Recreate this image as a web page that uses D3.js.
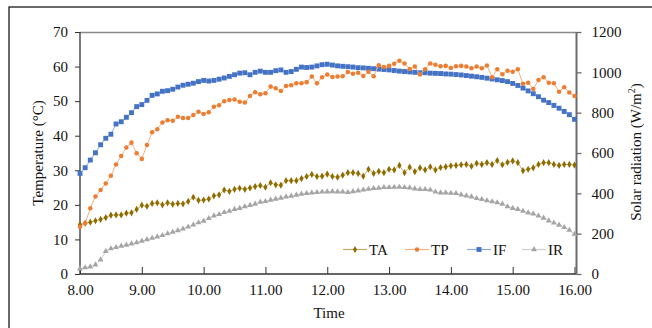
<!DOCTYPE html>
<html><head><meta charset="utf-8">
<script src="https://cdn.jsdelivr.net/npm/d3@7"></script>
<style>
body{margin:0;background:#fff;}
svg{display:block;}
text{font-family:"Liberation Serif","Times New Roman",serif;}
</style>
</head><body>
<svg id="c" width="652" height="328"></svg>
<script>
// ---- data (5-minute readings, 8.00 to 16.00) ----
const tickLabels = ["8.00","9.00","10.00","11.00","12.00","13.00","14.00","15.00","16.00"];
const tempTicks = [0,10,20,30,40,50,60,70];
const radTicks = [0,200,400,600,800,1000,1200];
const seriesNames = ["TA","TP","IF","IR"];

const TA = [14.3,14.7,15.0,15.4,15.8,16.3,17.0,17.1,17.1,17.6,17.7,18.7,19.9,19.6,20.4,20.6,20.0,20.6,20.2,20.4,20.3,21.0,22.2,21.3,21.4,21.7,22.6,22.9,
  24.3,23.9,24.5,24.8,24.5,24.9,25.3,25.6,25.1,26.4,25.8,25.7,27.0,27.0,27.0,27.6,28.2,28.8,28.2,28.3,28.9,
  28.2,28.0,28.6,29.3,29.3,29.1,28.3,30.3,29.1,29.7,29.3,30.3,30.1,31.4,29.3,30.9,29.6,30.7,30.1,31.0,30.1,30.8,31.0,31.3,
  31.4,31.6,31.7,31.2,32.0,31.7,32.2,31.7,32.8,31.6,32.3,32.7,32.2,29.9,30.3,30.7,31.7,32.2,32.2,31.7,31.4,31.7,31.7,31.5];

const TP = [13.7,14.7,19.0,22.4,24.3,26.2,28.4,31.7,34.1,36.6,38.0,34.9,33.3,37.3,41.0,41.9,43.8,44.5,44.3,45.5,45.1,45.1,46.0,46.9,46.3,
  46.8,48.4,48.8,50.0,50.3,50.5,49.8,49.6,51.5,52.6,52.0,52.3,54.2,53.7,52.9,54.4,54.6,55.2,55.2,55.5,57.1,55.2,56.9,57.7,
  57.0,57.1,57.2,58.4,57.9,58.2,57.3,58.5,57.2,60.4,59.9,60.2,60.8,61.7,60.9,59.3,60.0,57.7,59.2,60.9,60.5,60.1,60.2,59.6,
  60.1,60.2,60.0,59.5,60.0,59.5,60.3,56.9,59.2,57.8,58.8,58.5,59.2,55.0,55.3,53.5,56.1,56.9,55.3,55.2,52.7,54.0,52.5,51.5];

const IF = [499,527,565,601,641,673,693,744,755,777,800,830,840,861,886,893,906,909,916,927,936,941,946,954,960,
  957,960,966,972,980,988,996,998,988,1000,1006,1000,1000,1008,1012,1000,1004,1015,1026,1024,1026,1032,1038,1040,
  1036,1032,1030,1028,1026,1023,1022,1020,1018,1016,1014,1012,1009,1006,1004,1002,1000,998,998,996,995,994,992,991,
  989,987,984,981,978,975,971,967,963,959,954,945,935,922,908,894,879,862,850,836,822,806,790,767];

const IR = [26,32,36,46,71,113,126,132,139,144,150,156,164,171,178,185,192,200,208,216,224,234,244,255,263,276,289,
  296,306,312,321,326,334,341,347,357,360,367,372,377,383,387,392,397,400,403,405,407,408,
  409,408,407,405,409,413,417,421,425,426,430,430,431,431,430,428,423,420,420,417,407,403,403,401,
  400,393,388,383,375,370,364,359,354,347,334,326,321,312,304,298,288,278,264,254,243,231,218,198];

const times = d3.range(TA.length).map(i => 8 + i * 5 / 60);

// ---- layout ----
const FONT = '"Liberation Serif","Times New Roman",serif';
const svg = d3.select("#c");
const L = 80, R = 576.5, T = 32, B = 274;
const x = d3.scaleLinear().domain([8, 16]).range([L, 574.5]);
const yL = d3.scaleLinear().domain([0, 70]).range([B, T]);
const yR = d3.scaleLinear().domain([0, 1200]).range([B, T]);

// outer frame
svg.append("rect").attr("x", 9).attr("y", 7).attr("width", 700).attr("height", 400)
  .attr("fill", "none").attr("stroke", "#1a1a1a").attr("stroke-width", 1.3);

// plot border (top)
svg.append("line").attr("x1", L).attr("x2", R).attr("y1", T + 0.5).attr("y2", T + 0.5)
  .attr("stroke", "#8a8a8a").attr("stroke-width", 1.3);

// axes
const fs = "15px";
const gL = svg.append("g").attr("transform", `translate(${L},0)`)
  .call(d3.axisLeft(yL).tickValues(tempTicks).tickFormat(d3.format("d")).tickSize(5).tickPadding(7));
const gR = svg.append("g").attr("transform", `translate(${R},0)`)
  .call(d3.axisRight(yR).tickValues(radTicks).tickFormat(d3.format("d")).tickSize(5).tickPadding(10));
const gB = svg.append("g").attr("transform", `translate(0,${B})`)
  .call(d3.axisBottom(x).tickValues(tickLabels.map(Number)).tickFormat((d, i) => tickLabels[i])
    .tickSizeInner(-7).tickSizeOuter(0).tickPadding(10));

[gL, gR, gB].forEach(g => {
  g.attr("font-family", FONT).attr("font-size", 15);
  g.select(".domain").remove();
  g.selectAll("text").attr("font-size", fs).attr("fill", "#111").attr("font-family", FONT);
});
gL.selectAll("line").attr("stroke", "#333");
gB.selectAll("line").attr("stroke", "#333");
gR.selectAll("line").attr("stroke", "#6b6b6b").attr("stroke-width", 1.3);

svg.append("line").attr("x1", L).attr("x2", L).attr("y1", T).attr("y2", B)
  .attr("stroke", "#333").attr("stroke-width", 1.3);
svg.append("line").attr("x1", L).attr("x2", R).attr("y1", B).attr("y2", B)
  .attr("stroke", "#333").attr("stroke-width", 1.3);
svg.append("line").attr("x1", R).attr("x2", R).attr("y1", T).attr("y2", B)
  .attr("stroke", "#6b6b6b").attr("stroke-width", 2);

// axis titles
svg.append("text").attr("transform", `translate(43,153) rotate(-90)`)
  .attr("text-anchor", "middle").attr("font-size", fs).attr("fill", "#111").attr("font-family", FONT)
  .text("Temperature (°C)");
const rt = svg.append("text").attr("transform", `translate(641,152) rotate(-90)`)
  .attr("text-anchor", "middle").attr("font-size", fs).attr("fill", "#111").attr("font-family", FONT);
rt.append("tspan").text("Solar radiation (W/m");
rt.append("tspan").attr("font-size", "10px").attr("dy", "-6").text("2");
rt.append("tspan").attr("dy", "6").text(")");
svg.append("text").attr("x", 329).attr("y", 318).attr("text-anchor", "middle").attr("font-family", FONT)
  .attr("font-size", fs).attr("fill", "#111").text("Time");

// series
const styles = {
  TA: {data: TA, y: yL, mark: "#8f6c00", line: "#c4ad62", sym: d3.symbolDiamond, size: 15},
  TP: {data: TP, y: yL, mark: "#ed7d31", line: "#f4b183", sym: d3.symbolCircle, size: 16},
  IF: {data: IF, y: yR, mark: "#4472c4", line: "#8faadc", sym: d3.symbolSquare, size: 24},
  IR: {data: IR, y: yR, mark: "#a5a5a5", line: "#cfcfcf", sym: d3.symbolTriangle, size: 15}
};
const drawOrder = ["IR", "IF", "TA", "TP"];
drawOrder.forEach(name => {
  const s = styles[name];
  const line = d3.line().x((d, i) => x(times[i])).y(d => s.y(d));
  svg.append("path").datum(s.data).attr("d", line).attr("fill", "none")
    .attr("stroke", s.line).attr("stroke-width", 1);
  svg.append("g").selectAll("path").data(s.data).join("path")
    .attr("transform", (d, i) => `translate(${x(times[i])},${s.y(d)})`)
    .attr("d", d3.symbol().type(s.sym).size(s.size))
    .attr("fill", s.mark);
});

// legend
const legX = [343, 405, 467, 522];
const legY = 249.5;
seriesNames.forEach((name, k) => {
  const s = styles[name];
  const g = svg.append("g");
  g.append("line").attr("x1", legX[k]).attr("x2", legX[k] + 24).attr("y1", legY).attr("y2", legY)
    .attr("stroke", s.line).attr("stroke-width", 1.2);
  g.append("path").attr("transform", `translate(${legX[k] + 12},${legY})`)
    .attr("d", d3.symbol().type(s.sym).size(s.size)).attr("fill", s.mark);
  g.append("text").attr("x", legX[k] + 26).attr("y", 255).attr("font-size", fs).attr("fill", "#111")
    .attr("font-family", FONT).text(name);
});
</script>
</body></html>
